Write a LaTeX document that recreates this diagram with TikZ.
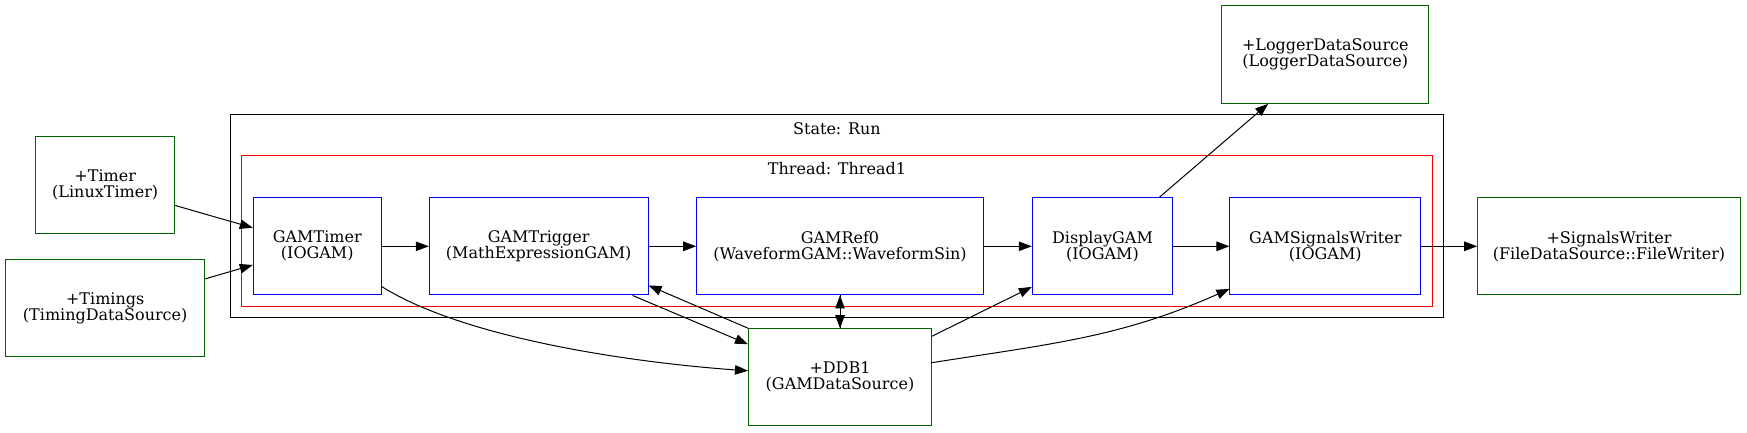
\documentclass[tikz,border=0pt]{standalone}
\usepackage{fontspec}
\setmainfont{DejaVu Serif}
\usepackage{xcolor}
\usetikzlibrary{arrows.meta, positioning, calc}
\definecolor{dsgreen}{RGB}{0,100,0}

\begin{document}
\begin{tikzpicture}[x=1pt,y=1pt,on grid,line width=1pt,>={Triangle[length=13pt,width=9.5pt]}]
    \tikzstyle{gam}=[shape=rectangle,draw=blue,minimum height=97.3pt,inner sep=0pt,align=center,font=\fontsize{16}{16}\selectfont]
    \tikzstyle{dsrc}=[gam,draw=dsgreen]
    \tikzstyle{clabel}=[inner sep=0pt,font=\fontsize{16}{16}\selectfont]

    \useasboundingbox (-840,-185.7) rectangle (907,246.3);

    \node[gam,minimum width=286.6pt] (GRef) {GAMRef0\\(WaveformGAM::WaveformSin)};
    \node[gam,minimum width=218.7pt,left=301.3pt of GRef] (GTrig) {GAMTrigger\\(MathExpressionGAM)};
    \node[gam,minimum width=128pt,left=221.4pt of GTrig] (GTimer) {GAMTimer\\(IOGAM)};
    \node[gam,minimum width=140.4pt,right=262.5pt of GRef] (GDisp) {DisplayGAM\\(IOGAM)};
    \node[gam,minimum width=190.7pt,right=222.8pt of GDisp] (GSigW) {GAMSignalsWriter\\(IOGAM)};
    \node[dsrc,minimum width=262.6pt,right=283.7pt of GSigW] (SigW) {+SignalsWriter\\(FileDataSource::FileWriter)};
    \node[dsrc,minimum width=207pt,minimum height=97.6pt,above=191.8pt of GSigW] (Logger) {+LoggerDataSource\\(LoggerDataSource)};
    \node[dsrc,minimum width=183pt,minimum height=97pt,below=130.9pt of GRef] (DDB) {+DDB1\\(GAMDataSource)};
    \node[dsrc,minimum width=139pt,above left=61pt and 212.1pt of GTimer] (Timer) {+Timer\\(LinuxTimer)};
    \node[dsrc,minimum width=199pt,below left=61.7pt and 212.1pt of GTimer] (Timings) {+Timings\\(TimingDataSource)};

    % clusters
    \coordinate (ThrSW) at ([shift={(-11,-11)}]GTimer.south west);
    \coordinate (ThrNE) at ([shift={(11,42)}]GSigW.north east);
    \coordinate (RunSW) at ([shift={(-22,-22)}]GTimer.south west);
    \coordinate (RunNE) at ([shift={(22,83)}]GSigW.north east);
    \draw[red] (ThrSW) rectangle (ThrNE);
    \draw (RunSW) rectangle (RunNE);
    \node[clabel] (ThrLabel) at ($(ThrSW|-ThrNE)!0.5!(ThrNE)+(0,-13.6)$) {Thread: Thread1};
    \node[clabel] (RunLabel) at ($(RunSW|-RunNE)!0.5!(RunNE)+(0,-14.3)$) {State: Run};

    \path[draw,every edge/.append style={->}]
    (Timer) edge (GTimer)
    (Timings) edge (GTimer)
    (GTimer) edge (GTrig)
    (GTrig) edge (GRef)
    (GRef) edge (GDisp)
    (GDisp) edge (GSigW)
    (GSigW) edge (SigW)
    (GDisp) edge (Logger)
    (GTimer) edge[out=-32,in=176,looseness=0.7] (DDB)
    ([xshift=-16pt]GTrig.south east) edge ([yshift=-16pt]DDB.north west)
    (DDB.north west) edge ([yshift=10pt]GTrig.south east)
    (GRef) edge (DDB)
    (DDB) edge (GRef)
    ([yshift=-8pt]DDB.north east) edge ([yshift=8.5pt]GDisp.south west)
    (DDB) edge[out=9,in=204] (GSigW)
    ;
\end{tikzpicture}
\end{document}
